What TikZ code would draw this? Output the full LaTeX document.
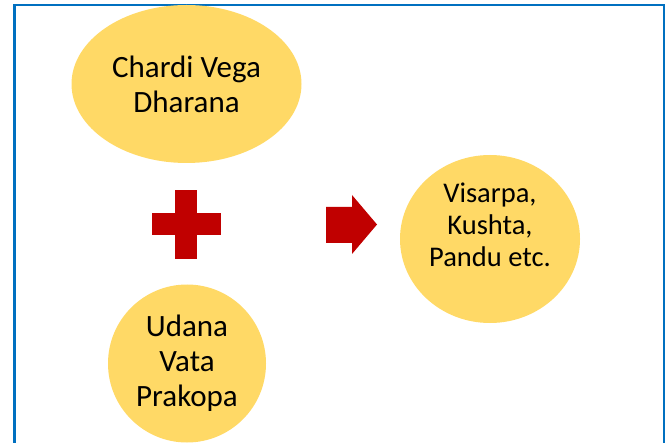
\documentclass[tikz,border=0pt]{standalone}
\usepackage{fontspec}
\setmainfont{Carlito}
\usetikzlibrary{shapes.geometric}
\definecolor{frameblue}{RGB}{0,112,192}
\definecolor{causeyellow}{RGB}{255,217,102}
\definecolor{signred}{RGB}{192,0,0}
\tikzset{
	cause/.style={ellipse, fill=causeyellow, inner sep=-30pt, align=center,
		font=\fontsize{31}{35}\selectfont},
	resulttext/.style={align=center, inner sep=0pt, font=\fontsize{28.5}{32}\selectfont}
}

\begin{document}
\begin{tikzpicture}[x=1pt, y=-1pt]
		%%%%% START %%%%%
		\useasboundingbox (0, 0) rectangle (671, 443);
		
		\draw[line width=2.6pt, color=frameblue] (14.7, 443) -- (14.7, 5) -- (664, 5) -- (664, 443);
		
		\node[cause, minimum width=230, minimum height=158] (chardi) at (186.5, 84) {Chardi Vega\\Dharana};
		\node[cause, minimum width=158, minimum height=158] (udana) at (187, 363.5) {Udana\\Vata\\Prakopa};
		\node[cause, minimum width=180, minimum height=168] (visarpa) at (490, 239) {};
		\node[resulttext] (visarpatext) at (490, 225) {Visarpa,\\Kushta,\\Pandu etc.};
		
		\fill[signred] (175, 190) rectangle (197, 259);
		\fill[signred] (152, 213) rectangle (221, 235);
		
		\fill[signred] (326, 207) -- (352, 207) -- (352, 195) -- (377, 224.5) -- (352, 254) -- (352, 243) -- (326, 243) -- cycle;
		
		%%%%% END %%%%%
	\end{tikzpicture}
\end{document}
